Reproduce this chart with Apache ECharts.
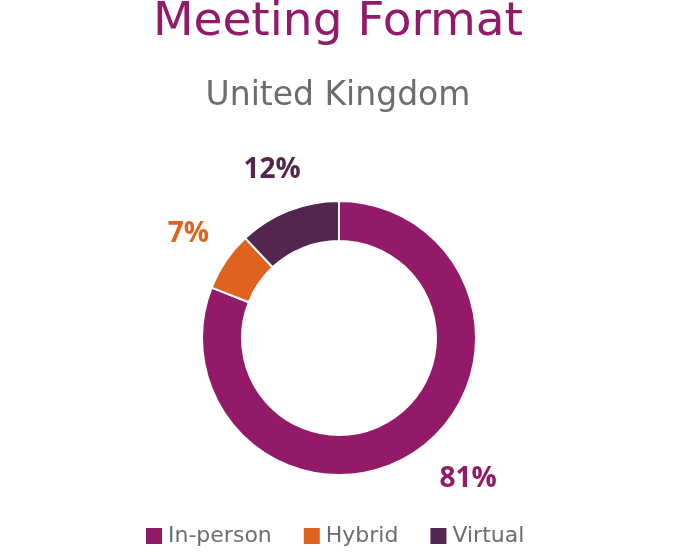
<!DOCTYPE html>
<html>
<head>
<meta charset="utf-8">
<script src="https://cdn.jsdelivr.net/npm/echarts@6/dist/echarts.min.js"></script>
<style>
  html, body { margin: 0; padding: 0; background: #fff; }
  #chart { width: 676px; height: 555px; }
</style>
</head>
<body>
<div id="chart"></div>
<script>
var categories = ['In-person', 'Hybrid', 'Virtual'];
var shares = [81, 7, 12];
var colors = ['#931a68', '#e0621f', '#52264f'];

var textFont = '"DejaVu Sans", sans-serif';
var numFont = '"Open Sans", sans-serif';

var pieData = categories.map(function (name, i) {
    return { name: name, value: shares[i], itemStyle: { color: colors[i] } };
});

var labelData = categories.map(function (name, i) {
    var item = { name: name, value: shares[i], label: { color: colors[i] } };
    if (i === 0) item.label.offset = [24, -14];
    if (i === 1) item.label.offset = [4, 1];
    if (i === 2) item.label.offset = [2, 6];
    return item;
});

var chart = echarts.init(document.getElementById('chart'));
chart.setOption({
    animation: false,
    title: {
        text: 'Meeting Format',
        subtext: 'United Kingdom',
        left: 'center',
        top: -6,
        itemGap: 34,
        textStyle: { fontFamily: textFont, fontSize: 47, fontWeight: 'normal', color: '#931a68' },
        subtextStyle: { fontFamily: textFont, fontSize: 33, color: '#6d6d6d' }
    },
    legend: {
        data: categories,
        bottom: 3,
        left: 139,
        icon: 'rect',
        itemWidth: 18,
        itemHeight: 18,
        itemGap: 30,
        textStyle: { fontFamily: textFont, fontSize: 22, color: '#6d6d6d' }
    },
    series: [
        {
            type: 'pie',
            center: [339, 338],
            radius: [97, 137],
            startAngle: 90,
            silent: true,
            label: { show: false },
            labelLine: { show: false },
            itemStyle: { borderColor: '#fff', borderWidth: 2 },
            data: pieData
        },
        {
            // invisible ring that only carries the percentage labels
            type: 'pie',
            center: [339, 338],
            radius: [172, 196],
            startAngle: 90,
            silent: true,
            legendHoverLink: false,
            itemStyle: { color: 'rgba(0,0,0,0)' },
            label: {
                show: true,
                position: 'inside',
                formatter: '{c}%',
                fontFamily: numFont,
                fontSize: 28,
                fontWeight: 'bold'
            },
            labelLine: { show: false },
            data: labelData
        }
    ]
});
</script>
</body>
</html>
